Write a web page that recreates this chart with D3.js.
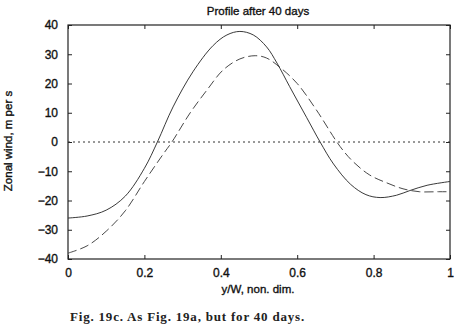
<!DOCTYPE html>
<html>
<head>
<meta charset="utf-8">
<script src="https://cdn.jsdelivr.net/npm/d3@7"></script>
<style>
  body { margin: 0; background: #fff; }
  svg text { font-family: "Liberation Sans", Arial, sans-serif; }
</style>
</head>
<body>
<svg id="chart" width="457" height="329"></svg>
<script>
// x positions (y/W) and wind values
const solidX = [0, 0.05, 0.1, 0.15, 0.2, 0.234, 0.275, 0.327, 0.38, 0.416, 0.45, 0.485, 0.52, 0.547, 0.58, 0.625, 0.66, 0.695, 0.74, 0.78, 0.817, 0.86, 0.895, 0.94, 1];
const solidY = [-26, -25.3, -23.3, -18.5, -9, 0, 12, 24, 33, 36.6, 37.8, 36.6, 32.5, 27, 19, 8.3, 0, -7.5, -14.5, -18, -19, -18.2, -16.6, -14.8, -13.5];

const dashX = [0, 0.05, 0.1, 0.15, 0.2, 0.25, 0.272, 0.32, 0.364, 0.406, 0.45, 0.49, 0.52, 0.555, 0.6, 0.65, 0.712, 0.747, 0.79, 0.835, 0.877, 0.92, 0.97, 1];
const dashY = [-38, -35.5, -30.5, -23.5, -13.5, -4, 0, 10, 17.8, 24.6, 28.4, 29.5, 28.7, 25.5, 20, 11, -1.5, -6.8, -11.3, -14, -16, -17, -17, -17];

const xTicks = [0, 0.2, 0.4, 0.6, 0.8, 1];
const xTickLabels = ["0", "0.2", "0.4", "0.6", "0.8", "1"];
const yTicks = [-40, -30, -20, -10, 0, 10, 20, 30, 40];

const svg = d3.select("#chart");
const plotL = 68, plotR = 450, plotT = 25, plotB = 259;

const x = d3.scaleLinear().domain([0, 1]).range([plotL, plotR]);
const y = d3.scaleLinear().domain([-40, 40]).range([plotB, plotT]);

// frame
svg.append("rect")
    .attr("x", plotL).attr("y", plotT)
    .attr("width", plotR - plotL).attr("height", plotB - plotT)
    .attr("fill", "none").attr("stroke", "#222").attr("stroke-width", 1.2);

// heavier look of the scanned labels
const inkText = g => g.attr("fill", "#111").attr("stroke", "#111").attr("stroke-width", 0.35);

// axes with inward ticks
svg.append("g")
    .attr("transform", `translate(${plotL},0)`)
    .call(d3.axisLeft(y).tickValues(yTicks).tickSize(-4).tickPadding(10).tickFormat(d3.format("d")))
    .call(g => g.select(".domain").remove())
    .call(g => g.selectAll("text").attr("font-size", 12).call(inkText));

svg.append("g")
    .attr("transform", `translate(${plotR},0)`)
    .call(d3.axisRight(y).tickValues(yTicks).tickSize(-4).tickFormat(""))
    .call(g => g.select(".domain").remove());

svg.append("g")
    .attr("transform", `translate(0,${plotB})`)
    .call(d3.axisBottom(x).tickValues(xTicks).tickSize(-4).tickPadding(9)
        .tickFormat((d, i) => xTickLabels[i]))
    .call(g => g.select(".domain").remove())
    .call(g => g.selectAll("text").attr("font-size", 12).call(inkText));

svg.append("g")
    .attr("transform", `translate(0,${plotT})`)
    .call(d3.axisTop(x).tickValues(xTicks).tickSize(-4).tickFormat(""))
    .call(g => g.select(".domain").remove());

svg.selectAll(".tick line").attr("stroke", "#222");

// zero line
svg.append("line")
    .attr("x1", plotL).attr("x2", plotR)
    .attr("y1", y(0)).attr("y2", y(0))
    .attr("stroke", "#333").attr("stroke-width", 1)
    .attr("stroke-dasharray", "2,3");

const line = d3.line()
    .x(d => x(d[0]))
    .y(d => y(d[1]))
    .curve(d3.curveCatmullRom.alpha(0.5));

svg.append("path")
    .datum(solidX.map((v, i) => [v, solidY[i]]))
    .attr("d", line)
    .attr("fill", "none")
    .attr("stroke", "#222")
    .attr("stroke-width", 0.9);

svg.append("path")
    .datum(dashX.map((v, i) => [v, dashY[i]]))
    .attr("d", line)
    .attr("fill", "none")
    .attr("stroke", "#333")
    .attr("stroke-width", 0.9)
    .attr("stroke-dasharray", "9,4");

// titles
svg.append("text")
    .attr("x", 258).attr("y", 15)
    .attr("text-anchor", "middle")
    .attr("font-size", 11.5)
    .call(inkText)
    .text("Profile after 40 days");

svg.append("text")
    .attr("transform", "translate(12,141) rotate(-90)")
    .attr("text-anchor", "middle")
    .attr("font-size", 11.5)
    .call(inkText)
    .text("Zonal wind, m per s");

svg.append("text")
    .attr("x", 258).attr("y", 293)
    .attr("text-anchor", "middle")
    .attr("font-size", 11.5)
    .call(inkText)
    .text("y/W, non. dim.");

svg.append("text")
    .attr("x", 70).attr("y", 321)
    .style("font-family", "'Liberation Serif', 'DejaVu Serif', serif")
    .attr("font-size", 13)
    .attr("font-weight", "bold")
    .attr("letter-spacing", 0.8)
    .attr("fill", "#222")
    .text("Fig. 19c. As Fig. 19a, but for 40 days.");
</script>
</body>
</html>
